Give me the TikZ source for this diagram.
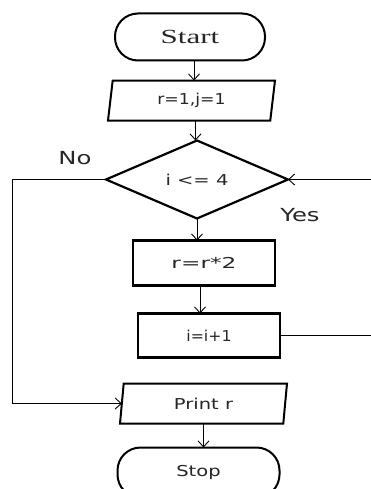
\documentclass[tikz,border=0pt]{standalone}
\usepackage{graphicx}
\usepackage{fontspec}
\setmainfont{Liberation Serif}
\newfontfamily\boxfont{DejaVu Sans}
\usetikzlibrary{shapes.geometric, arrows.meta, positioning}

% text in the scan is drawn wider than it is high
\newcommand{\wide}[2][1.3]{\scalebox{#1}[1]{#2}}

\begin{document}
\begin{tikzpicture}[
    x=1pt, y=1pt,
    term/.style={rectangle, draw, line width=2pt, rounded corners=23pt, minimum width=162pt, minimum height=47pt, inner sep=0pt, outer sep=0pt, text=black!85, font=\boxfont\fontsize{15}{17}\selectfont},
    io/.style={trapezium, trapezium left angle=72, trapezium right angle=108, trapezium stretches body, draw, line width=2pt, minimum width=167pt, minimum height=40pt, inner sep=0pt, outer sep=0pt, text=black!85, font=\boxfont\fontsize{15}{17}\selectfont},
    proc/.style={rectangle, draw, line width=2.2pt, minimum width=142pt, minimum height=45pt, inner sep=0pt, outer sep=0pt, text=black!85, font=\boxfont\fontsize{15}{17}\selectfont},
    decision/.style={diamond, draw, line width=2.2pt, minimum width=182pt, minimum height=78pt, aspect=2.33, inner sep=0pt, outer sep=0pt, text=black!85, font=\boxfont\fontsize{15}{17}\selectfont},
    lab/.style={text=black!85, font=\boxfont\fontsize{18}{20}\selectfont},
    arrow/.style={-{Straight Barb[length=6pt, width=11pt]}, line width=0.9pt}
]
    \useasboundingbox (0,0) rectangle (370,-489);

    \node[term, minimum width=150pt, font=\fontsize{20}{22}\selectfont] (start) at (190,-37) {\wide[1.55]{Start}};
    \node[io, below=20pt of start, xshift=1.5pt] (init) {\wide[1.15]{r=1,j=1}};
    \node[decision, below=20pt of init, xshift=5.5pt] (test) {\wide{i <= 4}};
    \node[proc, below=22pt of test, xshift=7pt] (mult) {\wide[1.55]{r=r*2}};
    \node[proc, below=28pt of mult, xshift=5pt, minimum height=44pt] (inc) {\wide[1.05]{i=i+1}};
    \node[io, below=26pt of inc, xshift=-5.5pt] (print) {\wide{Print r}};
    \node[term, below=24pt of print, xshift=-5pt, minimum height=50pt] (stop) {\wide{Stop}};

    \node[lab] (no) at (75,-158) {\wide[1.35]{No}};
    \node[lab] (yes) at (300,-215) {\wide[1.35]{Yes}};

    \coordinate (noturn) at (12,0);

    \draw[arrow] (start.south) ++(4pt,0) -- ++(0,-20pt);
    \draw[arrow] (init.south) ++(4pt,0) -- ++(0,-20pt);
    \draw[arrow] (test.south) -- (test.south |- mult.north);
    \draw[arrow] (mult.south) ++(-4pt,0) -- ++(0,-28pt);
    \draw[arrow] (print.south) -- (print.south |- stop.north);
    \draw[arrow] (inc.east) -- ++(110pt,0) |- (test.east);
    \draw[arrow] (test.west) -- (test.west -| noturn) |- (print.west);
\end{tikzpicture}
\end{document}
